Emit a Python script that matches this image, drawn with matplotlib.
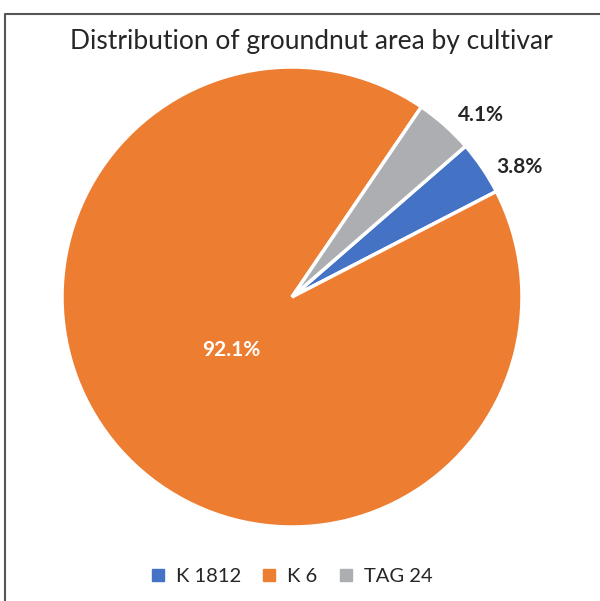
import numpy as np
import matplotlib
matplotlib.use("Agg")
import matplotlib.pyplot as plt
from matplotlib.lines import Line2D

plt.rcParams['font.family'] = ['Lato', 'DejaVu Sans']

cultivars = ["K 1812", "K 6", "TAG 24"]
shares = [3.8, 92.1, 4.1]
colors = ["#4472C4", "#ED7D31", "#ADAEB1"]
title = "Distribution of groundnut area by cultivar"

W, H = 600, 601
fig = plt.figure(figsize=(W / 100, H / 100), dpi=100)

# pie centre (292, 297) px, radius 230 px
cx, cy, r = 292, 297, 230
ax = fig.add_axes([(cx - r) / W, (H - cy - r) / H, 2 * r / W, 2 * r / H])
wedges, _ = ax.pie(shares, colors=colors, startangle=41, counterclock=False,
                   wedgeprops=dict(edgecolor="white", linewidth=2.5))
ax.set_xlim(-1, 1)
ax.set_ylim(-1, 1)
ax.set_aspect("equal")
ax.axis("off")

for w, v in zip(wedges, shares):
    mid = (w.theta1 + w.theta2) / 2
    if v > 50:
        d, col = 0.35, "white"
    else:
        d, col = 1.14, "#262626"
        mid -= 4.5  # outside-end labels sit slightly clockwise
    mid = np.deg2rad(mid)
    ax.text(d * np.cos(mid), d * np.sin(mid), f"{v}%", ha="center", va="center",
            fontsize=15, fontweight="bold", color=col)

fig.text(311 / W, 1 - 42 / H, title, ha="center", va="center", fontsize=19, color="#262626")

handles = [Line2D([], [], marker="s", linestyle="none", markersize=8,
                  markerfacecolor=c, markeredgecolor=c) for c in colors]
fig.legend(handles, cultivars, loc="center", bbox_to_anchor=(291 / W, 1 - 576 / H),
           ncol=3, frameon=False, fontsize=14.5, handlelength=0.8, handletextpad=0.5,
           columnspacing=1.0, labelcolor="#262626")

# chart border (top and left only visible)
fig.add_artist(Line2D([5 / W, 5 / W, 1], [0, 1 - 13.5 / H, 1 - 13.5 / H],
                      transform=fig.transFigure, color="#555555", linewidth=1.5))

fig.savefig("out.png", dpi=100, facecolor="white")
